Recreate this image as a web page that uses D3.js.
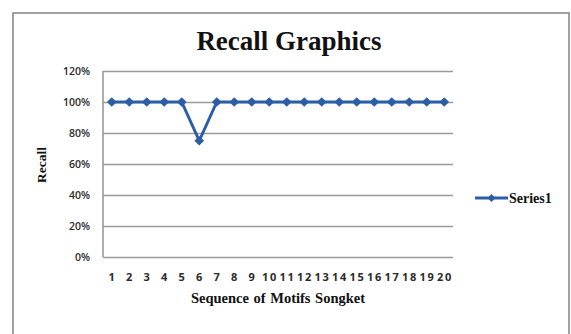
<!DOCTYPE html>
<html>
<head>
<meta charset="utf-8">
<script src="https://cdn.jsdelivr.net/npm/d3@7"></script>
<style>
  html, body { margin: 0; padding: 0; background: #fff; }
  svg { display: block; }
</style>
</head>
<body>
<svg id="chart" width="571" height="334"></svg>
<script>
// Recall per songket motif
const categories = ["1","2","3","4","5","6","7","8","9","10","11","12","13","14","15","16","17","18","19","20"];
const recall = [1, 1, 1, 1, 1, 0.75, 1, 1, 1, 1, 1, 1, 1, 1, 1, 1, 1, 1, 1, 1];
const yTicks = [0, 0.2, 0.4, 0.6, 0.8, 1.0, 1.2];
const seriesName = "Series1";

const svg = d3.select("#chart");
const plot = { left: 103, right: 453, top: 71, bottom: 257 };
const lineColor = "#2c5ea8";
const gridColor = "#9a9a9a";

// outer chart frame
svg.append("rect")
  .attr("x", 13).attr("y", 13)
  .attr("width", 556).attr("height", 340)
  .attr("fill", "#fff")
  .attr("stroke", "#8a8a8a").attr("stroke-width", 1.6);

const x = d3.scaleBand().domain(categories).range([plot.left, plot.right]);
const y = d3.scaleLinear().domain([0, 1.2]).range([plot.bottom, plot.top]);

// horizontal gridlines + y labels
const yAxis = d3.axisLeft(y).tickValues(yTicks).tickFormat(d3.format(".0%"))
  .tickSize(-(plot.right - plot.left)).tickPadding(13);
const gy = svg.append("g").attr("transform", `translate(${plot.left},0)`).call(yAxis);
gy.select(".domain").remove();
gy.selectAll(".tick line").attr("stroke", gridColor).attr("stroke-width", 1.6);
gy.selectAll(".tick text")
  .attr("font-family", "'Open Sans', sans-serif").attr("font-size", 10.5)
  .attr("font-weight", 600).attr("fill", "#2a2a2a");

// vertical axis line
svg.append("line")
  .attr("x1", plot.left).attr("x2", plot.left)
  .attr("y1", y(1.2)).attr("y2", y(0))
  .attr("stroke", gridColor).attr("stroke-width", 1.6);

// x labels
const xAxis = d3.axisBottom(x).tickSize(0).tickPadding(16);
const gx = svg.append("g").attr("transform", `translate(0,${plot.bottom})`).call(xAxis);
gx.select(".domain").remove();
gx.selectAll(".tick text")
  .attr("font-family", "'Open Sans', sans-serif").attr("font-size", 11)
  .attr("font-weight", 700).attr("fill", "#2a2a2a")
  .attr("letter-spacing", "1.7px")
  .attr("dx", "0.85px");

// series line
const line = d3.line()
  .x((d, i) => x(categories[i]) + x.bandwidth() / 2)
  .y(d => y(d));
svg.append("path").datum(recall)
  .attr("d", line)
  .attr("fill", "none").attr("stroke", lineColor)
  .attr("stroke-width", 3).attr("stroke-linejoin", "round");

const diamond = d3.symbol().type(d3.symbolDiamond2).size(60);
svg.append("g").selectAll("path").data(recall).join("path")
  .attr("d", diamond)
  .attr("transform", (d, i) => `translate(${x(categories[i]) + x.bandwidth() / 2},${y(d)})`)
  .attr("fill", lineColor);

// titles
svg.append("text")
  .attr("x", 289).attr("y", 50).attr("text-anchor", "middle")
  .attr("font-family", "'Liberation Serif', 'Times New Roman', serif")
  .attr("font-weight", "bold").attr("font-size", 27).attr("fill", "#111")
  .text("Recall Graphics");

svg.append("text")
  .attr("x", (plot.left + plot.right) / 2).attr("y", 303).attr("text-anchor", "middle")
  .attr("font-family", "'Liberation Serif', 'Times New Roman', serif")
  .attr("font-weight", "bold").attr("font-size", 14.5).attr("fill", "#111")
  .attr("word-spacing", "1px")
  .text("Sequence of Motifs  Songket");

svg.append("text")
  .attr("transform", `translate(46,${(plot.top + plot.bottom) / 2 + 1}) rotate(-90)`)
  .attr("text-anchor", "middle")
  .attr("font-family", "'Liberation Serif', 'Times New Roman', serif")
  .attr("font-weight", "bold").attr("font-size", 13.5).attr("fill", "#111")
  .text("Recall");

// legend
const lg = svg.append("g").attr("transform", "translate(475,198)");
lg.append("line").attr("x1", 0).attr("x2", 33).attr("y1", 0).attr("y2", 0)
  .attr("stroke", lineColor).attr("stroke-width", 3);
lg.append("path").attr("d", d3.symbol().type(d3.symbolDiamond2).size(40))
  .attr("transform", "translate(16.5,0)").attr("fill", lineColor);
lg.append("text").attr("x", 34).attr("y", 5)
  .attr("font-family", "'Liberation Serif', 'Times New Roman', serif")
  .attr("font-weight", "bold").attr("font-size", 14).attr("fill", "#111")
  .text(seriesName);
</script>
</body>
</html>
